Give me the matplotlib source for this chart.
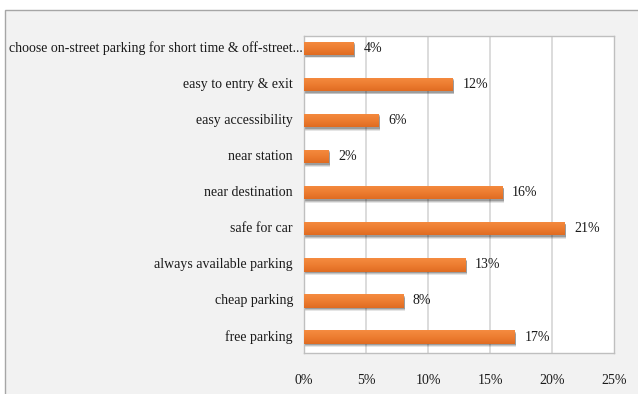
import matplotlib.pyplot as plt
import matplotlib.transforms as mtransforms
from matplotlib.patches import Rectangle
from matplotlib.colors import LinearSegmentedColormap
import numpy as np

categories = [
    "choose on-street parking for short time & off-street...",
    "easy to entry & exit",
    "easy accessibility",
    "near station",
    "near destination",
    "safe for car",
    "always available parking",
    "cheap parking",
    "free parking",
]
values = [4, 12, 6, 2, 16, 21, 13, 8, 17]
xticks = [0, 5, 10, 15, 20, 25]

FONT = "Liberation Serif"
FS = 10.0
ORANGE = "#ED7D31"
TXT = "#1a1a1a"

fig = plt.figure(figsize=(6.38, 3.94), dpi=100)
fig.patch.set_facecolor("white")

# grey chart frame (right/bottom edges run off the canvas)
frame = Rectangle((5 / 638, -0.05), 1.1, (394 - 10) / 394 + 0.05,
                  transform=fig.transFigure, facecolor="#f2f2f2",
                  edgecolor="#a6a6a6", linewidth=1.0, zorder=-5)
fig.patches.append(frame)

ax = fig.add_axes([304 / 638, (394 - 353) / 394, 310 / 638, 317 / 394])
ax.set_zorder(2)
ax.set_facecolor("white")

n = len(categories)
ypos = np.arange(n)[::-1]  # first category on top
bh = 0.37

# vertical gridlines
for t in xticks[1:-1]:
    ax.axvline(t, color="#d9d9d9", linewidth=1.3, zorder=1)

# soft drop shadow under each bar
for y, v in zip(ypos, values):
    for k, a in enumerate([0.10, 0.14, 0.20]):
        off = 0.09 - k * 0.025
        ax.add_patch(Rectangle((0.12, y - bh / 2 - off), v, bh,
                               facecolor="black", alpha=a, linewidth=0,
                               zorder=2))

# bars with a slight vertical gradient
bars = ax.barh(ypos, values, height=bh, color=ORANGE, zorder=3, linewidth=0)
grad = np.linspace(0, 1, 50).reshape(-1, 1)
cmap = LinearSegmentedColormap.from_list("og", ["#F58B40", "#ED7D31", "#E06C22"])
for b in bars:
    x0, y0 = b.get_x(), b.get_y()
    w, h = b.get_width(), b.get_height()
    im = ax.imshow(grad, cmap=cmap, aspect="auto",
                   extent=(x0, x0 + w, y0, y0 + h), origin="upper",
                   zorder=4, interpolation="bilinear")
    im.set_clip_path(b)
ax.set_xlim(0, 25)
ax.set_ylim(-0.443, 8.346)

# value labels
for y, v in zip(ypos, values):
    ax.annotate(f"{v}%", (v, y), xytext=(7, 0), textcoords="offset points",
                va="center", ha="left", fontfamily=FONT, fontsize=FS,
                color=TXT, zorder=5)

# category labels
lab_tr = mtransforms.blended_transform_factory(ax.transAxes, ax.transData)
for i, (y, c) in enumerate(zip(ypos, categories)):
    dx = -1 if i == 0 else -8
    ax.annotate(c, (0, y), xycoords=lab_tr, xytext=(dx, 0),
                textcoords="offset points", ha="right", va="center",
                fontfamily=FONT, fontsize=FS, color=TXT,
                annotation_clip=False)

ax.set_yticks([])
ax.set_xticks(xticks)
ax.set_xticklabels([f"{t}%" for t in xticks], fontfamily=FONT, fontsize=FS,
                   color=TXT)
ax.tick_params(axis="x", length=0, pad=15)

for s in ax.spines.values():
    s.set_color("#bfbfbf")
    s.set_linewidth(1.0)

fig.savefig("out.png", dpi=100, facecolor=fig.get_facecolor())
